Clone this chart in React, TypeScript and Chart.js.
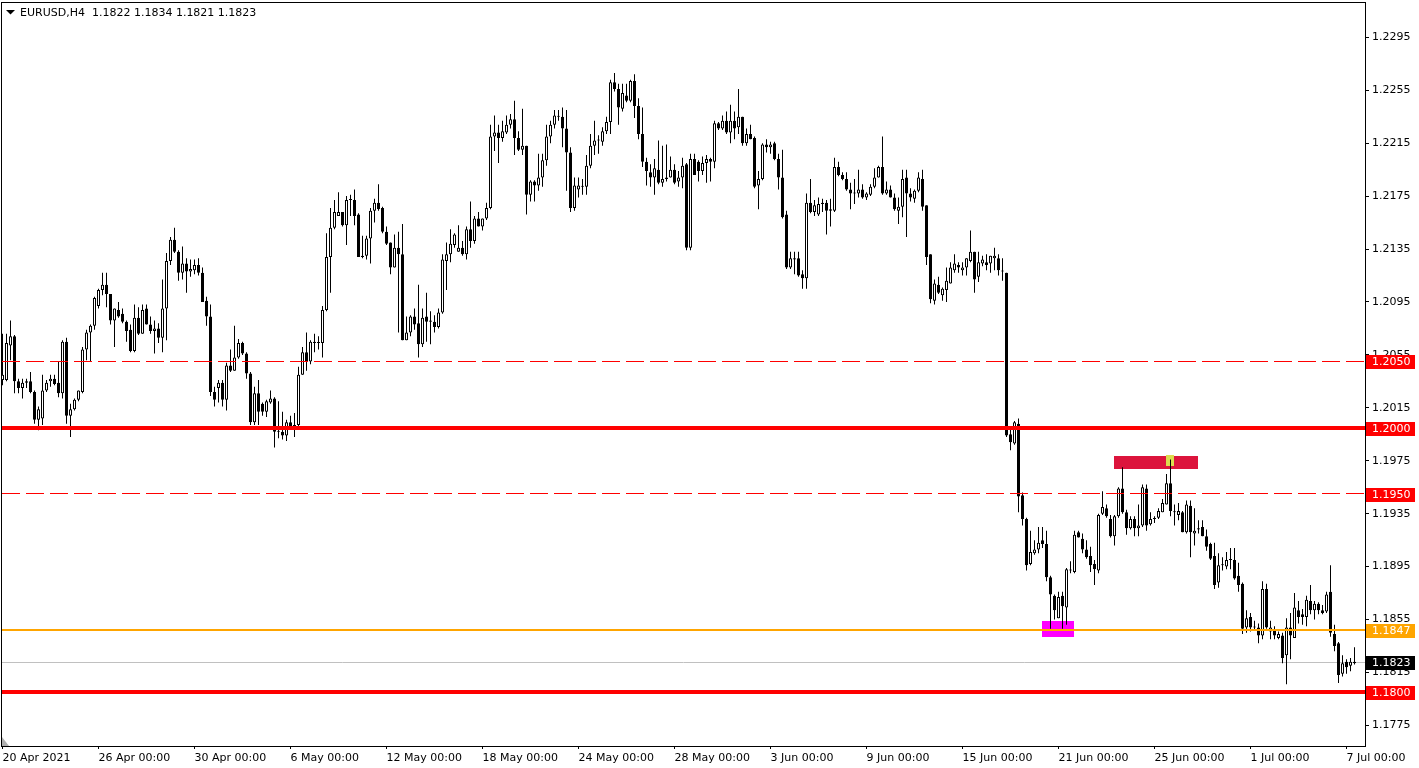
import React, { useEffect, useRef } from "react";
import { Chart, registerables } from "chart.js";

Chart.register(...registerables);

// ---------------- DATA ----------------
const symbol = "EURUSD";
const timeframe = "H4";

const opens = [
  1.2036,1.2036,1.2062,1.2069,1.2035,1.2030,1.2034,1.2035,1.2027,1.2006,
  1.2007,1.2028,1.2035,1.2037,1.2034,1.2026,1.2065,1.2009,1.2014,1.2021,
  1.2027,1.2059,1.2072,1.2077,1.2092,1.2104,1.2108,1.2101,1.2081,1.2089,
  1.2086,1.2080,1.2074,1.2058,1.2083,1.2071,1.2090,1.2078,1.2073,1.2075,
  1.2068,1.2090,1.2126,1.2142,1.2133,1.2117,1.2124,1.2118,1.2119,1.2123,
  1.2117,1.2096,1.2084,1.2027,1.2030,1.2034,1.2021,1.2047,1.2043,1.2053,
  1.2064,1.2056,1.2041,1.2004,1.2026,1.2018,1.2012,1.2019,1.2022,1.1997,
  1.1997,1.1994,1.2004,1.2001,1.2002,1.2040,1.2057,1.2050,1.2065,1.2064,
  1.2064,1.2089,1.2129,1.2151,1.2160,1.2163,1.2153,1.2172,1.2172,1.2161,
  1.2129,1.2130,1.2143,1.2164,1.2170,1.2166,1.2148,1.2140,1.2121,1.2136,
  1.2131,1.2066,1.2072,1.2084,1.2079,1.2063,1.2084,1.2081,1.2080,1.2076,
  1.2087,1.2126,1.2131,1.2138,1.2133,1.2136,1.2131,1.2150,1.2141,1.2158,
  1.2152,1.2158,1.2166,1.2220,1.2223,1.2219,1.2223,1.2229,1.2233,1.2219,
  1.2210,1.2213,1.2176,1.2186,1.2183,1.2189,1.2202,1.2220,1.2229,1.2235,
  1.2235,1.2226,1.2208,1.2166,1.2180,1.2182,1.2182,1.2198,1.2213,1.2217,
  1.2216,1.2224,1.2231,1.2261,1.2256,1.2241,1.2251,1.2247,1.2262,1.2243,
  1.2222,1.2201,1.2193,1.2189,1.2195,1.2185,1.2188,1.2189,1.2195,1.2186,
  1.2189,1.2199,1.2136,1.2203,1.2201,1.2194,1.2200,1.2203,1.2201,1.2230,
  1.2226,1.2232,1.2223,1.2232,1.2227,1.2235,1.2215,1.2222,1.2219,1.2183,
  1.2188,1.2214,1.2212,1.2215,1.2203,1.2189,1.2161,1.2121,1.2128,1.2128,
  1.2116,1.2113,1.2170,1.2163,1.2161,1.2170,1.2170,1.2165,1.2164,1.2197,
  1.2191,1.2188,1.2180,1.2177,1.2177,1.2180,1.2174,1.2176,1.2182,1.2189,
  1.2197,1.2177,1.2180,1.2174,1.2164,1.2167,1.2189,1.2177,1.2173,1.2179,
  1.2188,1.2168,1.2131,1.2096,1.2108,1.2100,1.2104,1.2109,1.2119,1.2123,
  1.2119,1.2121,1.2126,1.2133,1.2114,1.2124,1.2125,1.2124,1.2128,1.2128,
  1.2118,1.2117,1.1995,1.1988,1.2003,1.1949,1.1931,1.1897,1.1905,1.1908,
  1.1915,1.1912,1.1887,1.1873,1.1856,1.1873,1.1864,1.1892,1.1891,1.1921,
  1.1916,1.1908,1.1903,1.1897,1.1892,1.1935,1.1939,1.1931,1.1918,1.1933,
  1.1954,1.1936,1.1924,1.1931,1.1924,1.1926,1.1954,1.1927,1.1931,1.1932,
  1.1936,1.1942,1.1958,1.1936,1.1934,1.1936,1.1921,1.1941,1.1920,1.1923,
  1.1925,1.1918,1.1912,1.1903,1.1883,1.1896,1.1895,1.1900,1.1900,1.1888,
  1.1882,1.1849,1.1857,1.1849,1.1849,1.1843,1.1878,1.1846,1.1847,1.1841,
  1.1843,1.1828,1.1849,1.1841,1.1862,1.1859,1.1857,1.1869,1.1862,1.1867,
  1.1862,1.1861,1.1876,1.1844,1.1837,1.1814,1.1823,1.1820,1.1822,
];

const highs = [
  1.2071,1.2071,1.2081,1.2070,1.2037,1.2037,1.2037,1.2042,1.2028,1.2016,
  1.2040,1.2036,1.2040,1.2040,1.2050,1.2066,1.2068,1.2018,1.2022,1.2028,
  1.2061,1.2074,1.2078,1.2099,1.2105,1.2117,1.2117,1.2101,1.2090,1.2095,
  1.2090,1.2081,1.2078,1.2093,1.2091,1.2093,1.2093,1.2084,1.2081,1.2079,
  1.2112,1.2132,1.2144,1.2151,1.2134,1.2137,1.2128,1.2127,1.2127,1.2128,
  1.2121,1.2099,1.2093,1.2031,1.2036,1.2036,1.2049,1.2059,1.2077,1.2067,
  1.2065,1.2057,1.2042,1.2031,1.2036,1.2019,1.2021,1.2028,1.2023,1.2020,
  1.2012,1.2006,1.2009,1.2011,1.2046,1.2061,1.2072,1.2066,1.2071,1.2069,
  1.2092,1.2147,1.2166,1.2172,1.2178,1.2163,1.2175,1.2176,1.2180,1.2162,
  1.2145,1.2145,1.2166,1.2173,1.2184,1.2167,1.2152,1.2140,1.2146,1.2148,
  1.2154,1.2084,1.2085,1.2090,1.2108,1.2090,1.2102,1.2088,1.2085,1.2090,
  1.2131,1.2140,1.2150,1.2147,1.2153,1.2141,1.2152,1.2171,1.2160,1.2163,
  1.2158,1.2170,1.2229,1.2236,1.2229,1.2232,1.2236,1.2237,1.2247,1.2224,
  1.2241,1.2213,1.2187,1.2187,1.2207,1.2207,1.2229,1.2232,1.2240,1.2240,
  1.2242,1.2240,1.2212,1.2189,1.2189,1.2188,1.2206,1.2222,1.2232,1.2221,
  1.2227,1.2235,1.2263,1.2268,1.2260,1.2260,1.2260,1.2263,1.2267,1.2249,
  1.2242,1.2204,1.2199,1.2203,1.2217,1.2213,1.2214,1.2205,1.2199,1.2194,
  1.2204,1.2200,1.2207,1.2207,1.2202,1.2205,1.2206,1.2204,1.2232,1.2231,
  1.2236,1.2239,1.2244,1.2239,1.2256,1.2235,1.2226,1.2229,1.2220,1.2194,
  1.2215,1.2218,1.2216,1.2216,1.2207,1.2210,1.2164,1.2133,1.2133,1.2133,
  1.2119,1.2177,1.2188,1.2172,1.2174,1.2173,1.2172,1.2173,1.2204,1.2201,
  1.2193,1.2193,1.2185,1.2188,1.2195,1.2184,1.2178,1.2184,1.2196,1.2198,
  1.2220,1.2186,1.2183,1.2177,1.2174,1.2195,1.2195,1.2181,1.2180,1.2193,
  1.2195,1.2168,1.2131,1.2112,1.2114,1.2106,1.2121,1.2125,1.2131,1.2125,
  1.2125,1.2128,1.2149,1.2133,1.2133,1.2130,1.2131,1.2130,1.2136,1.2131,
  1.2128,1.2117,1.1999,1.2005,1.2007,1.1951,1.1932,1.1922,1.1915,1.1925,
  1.1925,1.1922,1.1888,1.1874,1.1876,1.1876,1.1894,1.1899,1.1922,1.1922,
  1.1920,1.1915,1.1910,1.1900,1.1935,1.1952,1.1942,1.1934,1.1934,1.1955,
  1.1970,1.1938,1.1933,1.1933,1.1942,1.1957,1.1957,1.1936,1.1933,1.1939,
  1.1946,1.1965,1.1976,1.1942,1.1943,1.1937,1.1945,1.1945,1.1939,1.1930,
  1.1930,1.1923,1.1913,1.1913,1.1905,1.1902,1.1906,1.1909,1.1909,1.1898,
  1.1883,1.1862,1.1860,1.1854,1.1852,1.1884,1.1882,1.1854,1.1850,1.1846,
  1.1845,1.1856,1.1860,1.1875,1.1869,1.1863,1.1873,1.1881,1.1869,1.1868,
  1.1866,1.1876,1.1896,1.1851,1.1838,1.1828,1.1825,1.1826,1.1834,
];

const lows = [
  1.2032,1.2035,1.2051,1.2026,1.2026,1.2022,1.2030,1.2026,1.2003,1.1998,
  1.2002,1.2027,1.2031,1.2032,1.2023,1.2022,1.2003,1.1993,1.2013,1.2020,
  1.2026,1.2051,1.2050,1.2074,1.2090,1.2100,1.2091,1.2078,1.2061,1.2083,
  1.2079,1.2065,1.2057,1.2057,1.2070,1.2071,1.2078,1.2071,1.2056,1.2064,
  1.2057,1.2066,1.2123,1.2132,1.2111,1.2112,1.2102,1.2114,1.2116,1.2115,
  1.2095,1.2077,1.2024,1.2016,1.2019,1.2016,1.2013,1.2042,1.2043,1.2052,
  1.2055,1.2037,1.2002,1.2002,1.2002,1.2009,1.2008,1.2018,1.1985,1.1992,
  1.1991,1.1990,1.2000,1.1993,1.2000,1.2040,1.2043,1.2048,1.2057,1.2059,
  1.2053,1.2088,1.2102,1.2150,1.2160,1.2152,1.2138,1.2160,1.2153,1.2129,
  1.2128,1.2127,1.2124,1.2155,1.2164,1.2147,1.2138,1.2116,1.2121,1.2072,
  1.2066,1.2066,1.2069,1.2074,1.2053,1.2061,1.2065,1.2063,1.2072,1.2075,
  1.2086,1.2104,1.2125,1.2136,1.2133,1.2130,1.2127,1.2136,1.2139,1.2152,
  1.2149,1.2157,1.2165,1.2209,1.2200,1.2216,1.2222,1.2226,1.2206,1.2209,
  1.2206,1.2161,1.2171,1.2171,1.2179,1.2182,1.2198,1.2215,1.2226,1.2232,
  1.2212,1.2179,1.2163,1.2164,1.2174,1.2176,1.2176,1.2196,1.2206,1.2207,
  1.2213,1.2222,1.2222,1.2254,1.2229,1.2239,1.2246,1.2246,1.2234,1.2218,
  1.2197,1.2183,1.2182,1.2176,1.2184,1.2182,1.2186,1.2189,1.2184,1.2182,
  1.2181,1.2134,1.2134,1.2191,1.2186,1.2191,1.2185,1.2186,1.2196,1.2225,
  1.2225,1.2222,1.2215,1.2218,1.2222,1.2213,1.2213,1.2218,1.2181,1.2165,
  1.2187,1.2208,1.2207,1.2202,1.2180,1.2158,1.2120,1.2120,1.2116,1.2114,
  1.2105,1.2105,1.2162,1.2160,1.2160,1.2163,1.2146,1.2152,1.2163,1.2190,
  1.2187,1.2179,1.2165,1.2169,1.2174,1.2173,1.2172,1.2175,1.2181,1.2189,
  1.2176,1.2176,1.2174,1.2164,1.2154,1.2159,1.2144,1.2171,1.2170,1.2178,
  1.2164,1.2123,1.2094,1.2093,1.2101,1.2096,1.2095,1.2109,1.2117,1.2117,
  1.2115,1.2115,1.2125,1.2102,1.2110,1.2122,1.2119,1.2117,1.2119,1.2115,
  1.2111,1.1993,1.1983,1.1987,1.1936,1.1926,1.1892,1.1896,1.1904,1.1905,
  1.1909,1.1884,1.1848,1.1855,1.1856,1.1848,1.1851,1.1890,1.1890,1.1917,
  1.1905,1.1901,1.1891,1.1881,1.1890,1.1934,1.1932,1.1917,1.1911,1.1932,
  1.1935,1.1919,1.1923,1.1918,1.1918,1.1925,1.1922,1.1926,1.1928,1.1931,
  1.1936,1.1942,1.1933,1.1926,1.1930,1.1921,1.1920,1.1902,1.1911,1.1920,
  1.1918,1.1907,1.1900,1.1878,1.1879,1.1892,1.1893,1.1893,1.1885,1.1876,
  1.1844,1.1845,1.1846,1.1847,1.1837,1.1840,1.1848,1.1840,1.1840,1.1840,
  1.1822,1.1806,1.1825,1.1841,1.1852,1.1851,1.1850,1.1859,1.1855,1.1859,
  1.1859,1.1860,1.1842,1.1831,1.1807,1.1812,1.1814,1.1816,1.1821,
];

const closes = [
  1.2040,1.2064,1.2069,1.2035,1.2030,1.2034,1.2035,1.2027,1.2006,1.2014,
  1.2028,1.2034,1.2037,1.2033,1.2026,1.2065,1.2009,1.2014,1.2021,1.2028,
  1.2059,1.2072,1.2077,1.2098,1.2104,1.2108,1.2101,1.2081,1.2090,1.2084,
  1.2080,1.2073,1.2058,1.2083,1.2071,1.2089,1.2078,1.2073,1.2075,1.2068,
  1.2090,1.2126,1.2142,1.2133,1.2117,1.2124,1.2118,1.2120,1.2123,1.2117,
  1.2095,1.2084,1.2027,1.2021,1.2034,1.2021,1.2047,1.2043,1.2053,1.2064,
  1.2056,1.2041,1.2004,1.2026,1.2012,1.2012,1.2020,1.2022,1.1997,1.1997,
  1.1994,1.2004,1.2001,1.2002,1.2040,1.2057,1.2050,1.2065,1.2064,1.2064,
  1.2089,1.2129,1.2151,1.2163,1.2163,1.2153,1.2172,1.2172,1.2160,1.2129,
  1.2130,1.2143,1.2164,1.2170,1.2165,1.2148,1.2139,1.2121,1.2136,1.2131,
  1.2066,1.2072,1.2084,1.2078,1.2063,1.2083,1.2080,1.2080,1.2076,1.2087,
  1.2127,1.2131,1.2139,1.2146,1.2136,1.2131,1.2150,1.2141,1.2158,1.2152,
  1.2158,1.2166,1.2220,1.2223,1.2219,1.2224,1.2229,1.2233,1.2219,1.2210,
  1.2213,1.2176,1.2186,1.2183,1.2189,1.2202,1.2220,1.2229,1.2236,1.2235,
  1.2226,1.2208,1.2166,1.2183,1.2183,1.2182,1.2198,1.2213,1.2217,1.2217,
  1.2224,1.2231,1.2261,1.2256,1.2242,1.2253,1.2247,1.2262,1.2243,1.2222,
  1.2201,1.2194,1.2189,1.2196,1.2185,1.2188,1.2189,1.2195,1.2185,1.2189,
  1.2198,1.2136,1.2203,1.2191,1.2194,1.2200,1.2203,1.2201,1.2230,1.2226,
  1.2232,1.2223,1.2232,1.2226,1.2235,1.2215,1.2222,1.2218,1.2182,1.2188,
  1.2214,1.2212,1.2214,1.2203,1.2189,1.2159,1.2121,1.2128,1.2127,1.2115,
  1.2113,1.2170,1.2163,1.2168,1.2169,1.2169,1.2164,1.2164,1.2197,1.2191,
  1.2188,1.2180,1.2177,1.2177,1.2180,1.2174,1.2177,1.2182,1.2189,1.2197,
  1.2177,1.2180,1.2174,1.2165,1.2167,1.2188,1.2177,1.2174,1.2179,1.2189,
  1.2167,1.2129,1.2097,1.2109,1.2102,1.2105,1.2111,1.2121,1.2124,1.2121,
  1.2121,1.2128,1.2133,1.2112,1.2125,1.2127,1.2123,1.2130,1.2130,1.2119,
  1.2118,1.1994,1.1989,1.2004,1.1948,1.1931,1.1896,1.1906,1.1908,1.1913,
  1.1912,1.1887,1.1874,1.1862,1.1872,1.1865,1.1893,1.1892,1.1919,1.1917,
  1.1908,1.1902,1.1896,1.1893,1.1934,1.1940,1.1933,1.1918,1.1933,1.1954,
  1.1936,1.1924,1.1931,1.1924,1.1926,1.1955,1.1926,1.1931,1.1931,1.1937,
  1.1943,1.1958,1.1937,1.1936,1.1937,1.1921,1.1942,1.1921,1.1922,1.1924,
  1.1918,1.1910,1.1901,1.1881,1.1896,1.1896,1.1900,1.1900,1.1886,1.1881,
  1.1848,1.1856,1.1849,1.1849,1.1843,1.1878,1.1849,1.1849,1.1843,1.1844,
  1.1826,1.1849,1.1843,1.1864,1.1857,1.1857,1.1870,1.1862,1.1867,1.1862,
  1.1860,1.1874,1.1845,1.1835,1.1813,1.1822,1.1819,1.1823,1.1823,
];

// bar index of each date label, and its text
const dateTickIndex = [0, 24, 48, 72, 96, 120, 144, 168, 192, 216, 240, 264, 288, 312, 336];
const dateTickLabels = [
  "20 Apr 2021", "26 Apr 00:00", "30 Apr 00:00", "6 May 00:00", "12 May 00:00",
  "18 May 00:00", "24 May 00:00", "28 May 00:00", "3 Jun 00:00", "9 Jun 00:00",
  "15 Jun 00:00", "21 Jun 00:00", "25 Jun 00:00", "1 Jul 00:00", "7 Jul 00:00",
];

const priceTicks = [
  1.2295, 1.2255, 1.2215, 1.2175, 1.2135, 1.2095, 1.2055,
  1.2015, 1.1975, 1.1935, 1.1895, 1.1855, 1.1815, 1.1775,
];

// horizontal levels
const solidLevels = [1.2, 1.18];
const dashedLevels = [1.205, 1.195];
const supportLevel = 1.1847;
const currentPrice = 1.1823;

// rectangles (bar index from/to, price top/bottom)
const zoneFrom = [277.9, 290.9, 259.9];
const zoneTo = [298.8, 292.9, 267.9];
const zoneTop = [1.19785, 1.19795, 1.1854];
const zoneBottom = [1.1969, 1.19712, 1.1842];

// ---------------- STYLE ----------------
const FONT = '"DejaVu Sans"';
const RED = "#ff0000";
const ORANGE = "#ffa500";
const zoneColors = ["#dc143c", "#dcdc4e", "#ff00ff"];
const Y_MIN = 1.1759416;
const Y_MAX = 1.2320934;
const X_MIN = -0.125;
const X_MAX = 340.625;

const fmt = (v: number) => v.toFixed(4);

const overlayPlugin = {
  id: "mt4Overlay",
  beforeDatasetsDraw(chart: any) {
    const { ctx, chartArea: a, scales } = chart;
    const xs = scales.x;
    const ys = scales.y;
    ctx.save();
    ctx.beginPath();
    ctx.rect(a.left, a.top, a.right - a.left, a.bottom - a.top);
    ctx.clip();
    zoneFrom.forEach((f, k) => {
      const x0 = Math.round(xs.getPixelForValue(f));
      const x1 = Math.round(xs.getPixelForValue(zoneTo[k]));
      const y0 = Math.round(ys.getPixelForValue(zoneTop[k]));
      const y1 = Math.round(ys.getPixelForValue(zoneBottom[k]));
      ctx.fillStyle = zoneColors[k];
      ctx.fillRect(x0, y0, x1 - x0, y1 - y0);
    });
    // current price line
    const cy = Math.round(ys.getPixelForValue(currentPrice)) + 0.5;
    ctx.strokeStyle = "#c0c0c0";
    ctx.lineWidth = 1;
    ctx.beginPath();
    ctx.moveTo(a.left, cy);
    ctx.lineTo(a.right, cy);
    ctx.stroke();
    ctx.restore();
  },
  afterDatasetsDraw(chart: any) {
    const { ctx, chartArea: a, scales } = chart;
    const ys = scales.y;
    ctx.save();
    ctx.beginPath();
    ctx.rect(a.left, a.top, a.right - a.left, a.bottom - a.top);
    ctx.clip();
    // dashed
    ctx.strokeStyle = RED;
    ctx.lineWidth = 1;
    ctx.setLineDash([18, 6]);
    dashedLevels.forEach((lv) => {
      const py = Math.floor(ys.getPixelForValue(lv)) + 0.5;
      ctx.beginPath();
      ctx.moveTo(a.left, py);
      ctx.lineTo(a.right, py);
      ctx.stroke();
    });
    ctx.setLineDash([]);
    // orange support
    {
      const py = Math.round(ys.getPixelForValue(supportLevel));
      ctx.fillStyle = ORANGE;
      ctx.fillRect(a.left, py - 1, a.right - a.left, 2);
    }
    // solid thick red
    solidLevels.forEach((lv) => {
      const py = Math.round(ys.getPixelForValue(lv));
      ctx.fillStyle = RED;
      ctx.fillRect(a.left, py - 2, a.right - a.left, 4);
    });
    ctx.restore();
  },
  afterDraw(chart: any) {
    const { ctx, chartArea: a, scales } = chart;
    const ys = scales.y;
    ctx.save();
    // frame
    ctx.strokeStyle = "#000";
    ctx.lineWidth = 1;
    ctx.strokeRect(a.left - 0.5, a.top - 0.5, a.right - a.left + 1, a.bottom - a.top + 1);
    // shift marker
    ctx.fillStyle = "#b0b0b0";
    ctx.beginPath();
    ctx.moveTo(a.left, a.bottom - 9);
    ctx.lineTo(a.left, a.bottom);
    ctx.lineTo(a.left + 7, a.bottom);
    ctx.closePath();
    ctx.fill();
    // price boxes
    const boxes: [number, string][] = [
      [dashedLevels[0], RED],
      [solidLevels[0], RED],
      [dashedLevels[1], RED],
      [supportLevel, ORANGE],
      [currentPrice, "#000"],
      [solidLevels[1], RED],
    ];
    ctx.font = `11px ${FONT}`;
    ctx.textBaseline = "middle";
    ctx.textAlign = "left";
    boxes.forEach(([lv, col]) => {
      const py = Math.round(ys.getPixelForValue(lv));
      ctx.fillStyle = col;
      ctx.fillRect(a.right + 1, py - 6, 49, 14);
      ctx.fillStyle = "#fff";
      ctx.fillText(fmt(lv), a.right + 7, py + 1.5);
    });
    // title
    const n = closes.length - 1;
    ctx.fillStyle = "#000";
    ctx.beginPath();
    ctx.moveTo(6, 10);
    ctx.lineTo(15, 10);
    ctx.lineTo(10.5, 14.5);
    ctx.closePath();
    ctx.fill();
    ctx.fillText(
      `${symbol},${timeframe}  ${fmt(opens[n])} ${fmt(highs[n])} ${fmt(lows[n])} ${fmt(closes[n])}`,
      20,
      13
    );
    ctx.restore();
  },
};

export default function App() {
  const ref = useRef<HTMLCanvasElement>(null);
  useEffect(() => {
    if (!ref.current) return;
    const bodyData = opens.map((o, i) => ({
      x: i,
      y: [Math.min(o, closes[i]), Math.max(o, closes[i])],
    }));
    const wickData = opens.map((_, i) => ({ x: i, y: [lows[i], highs[i]] }));
    const bodyColors = opens.map((o, i) => (closes[i] >= o ? "#ffffff" : "#000000"));

    Chart.defaults.font.family = FONT;
    Chart.defaults.font.size = 11;

    const chart = new Chart(ref.current, {
      type: "bar",
      data: {
        datasets: [
          {
            label: "body",
            data: bodyData as any,
            backgroundColor: bodyColors,
            borderColor: "#000",
            borderWidth: 1,
            borderSkipped: false,
            barThickness: 3,
            grouped: false,
            minBarLength: 1,
            inflateAmount: 0,
          } as any,
          {
            label: "wick",
            data: wickData as any,
            backgroundColor: "#000",
            borderWidth: 0,
            barThickness: 1,
            grouped: false,
            inflateAmount: 0,
          } as any,
        ],
      },
      options: {
        animation: false,
        responsive: false,
        devicePixelRatio: 1,
        events: [],
        layout: { padding: { left: 2, top: 3, right: 0, bottom: 0 } },
        plugins: { legend: { display: false }, tooltip: { enabled: false } },
        scales: {
          x: {
            type: "linear",
            min: X_MIN,
            max: X_MAX,
            offset: false,
            bounds: "data",
            afterBuildTicks: (s: any) => {
              s.ticks = dateTickIndex.map((v) => ({ value: v }));
            },
            afterFit: (s: any) => {
              s.height = 22;
              s.paddingLeft = 0;
              s.paddingRight = 0;
            },
            grid: { drawOnChartArea: false, drawTicks: true, tickLength: 3, color: "#000", offset: false },
            border: { display: false },
            ticks: {
              autoSkip: false,
              maxRotation: 0,
              minRotation: 0,
              align: "start",
              padding: 3,
              color: "#000",
              font: { family: FONT, size: 11 },
              callback: (v: any) => {
                const k = dateTickIndex.indexOf(Number(v));
                return k >= 0 ? dateTickLabels[k] : "";
              },
            },
          } as any,
          y: {
            type: "linear",
            position: "right",
            min: Y_MIN,
            max: Y_MAX,
            bounds: "data",
            afterBuildTicks: (s: any) => {
              s.ticks = priceTicks.map((v) => ({ value: v }));
            },
            afterFit: (s: any) => {
              s.width = 54;
              s.paddingTop = 0;
              s.paddingBottom = 0;
            },
            grid: { drawOnChartArea: false, drawTicks: true, tickLength: 4, color: "#000" },
            border: { display: false },
            ticks: {
              autoSkip: false,
              padding: 3,
              color: "#000",
              font: { family: FONT, size: 11 },
              callback: (v: any) => fmt(Number(v)),
            },
          } as any,
        },
      },
      plugins: [overlayPlugin],
    });
    return () => chart.destroy();
  }, []);

  return (
    <div style={{ position: "fixed", left: 0, top: 0, width: 1419, height: 768, background: "#fff" }}>
      <canvas ref={ref} width={1419} height={768} style={{ display: "block", width: 1419, height: 768 }} />
    </div>
  );
}
